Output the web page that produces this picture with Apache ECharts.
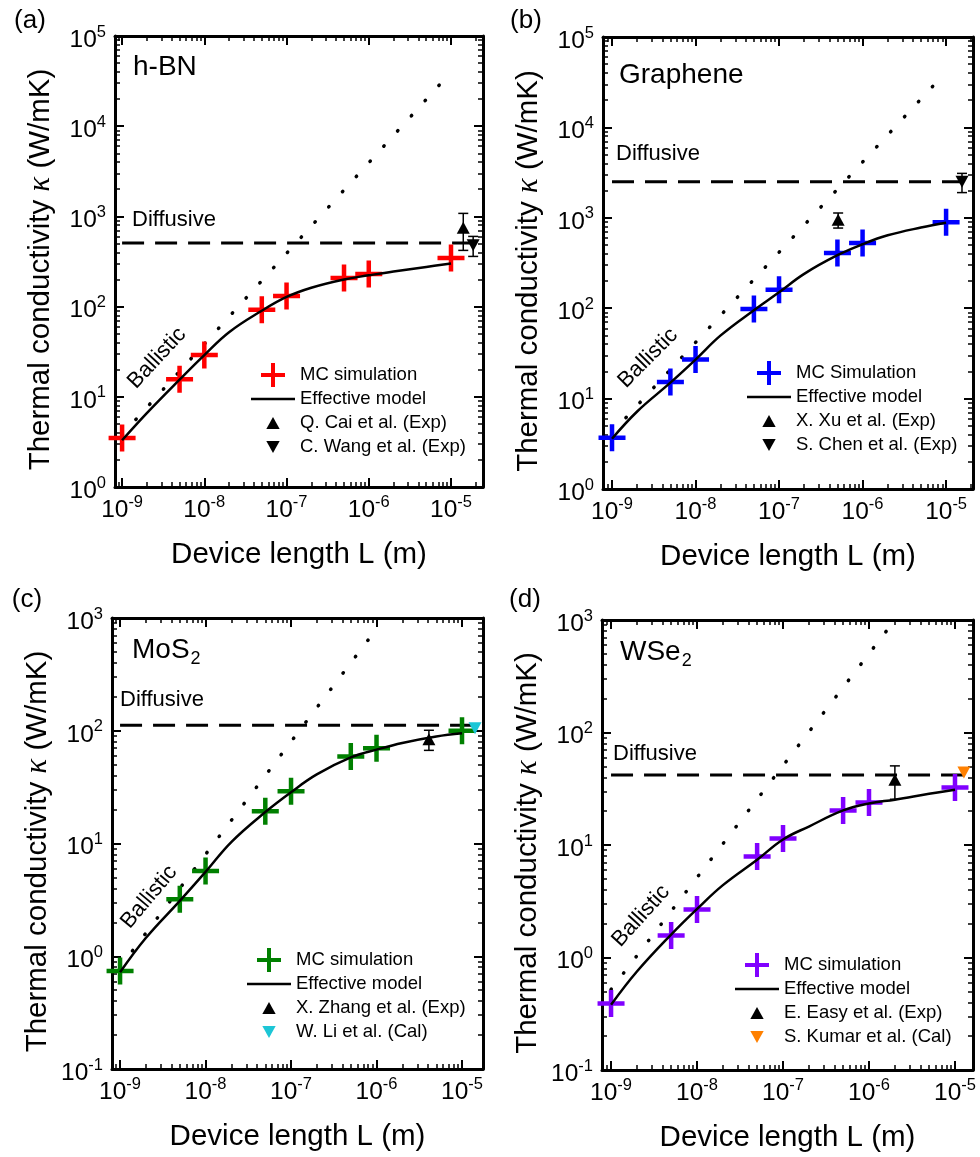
<!DOCTYPE html>
<html>
<head>
<meta charset="utf-8">
<script src="https://cdn.jsdelivr.net/npm/echarts@6/dist/echarts.min.js"></script>
<style>
  html, body { margin: 0; padding: 0; background: #fff; }
  #chart { width: 980px; height: 1157px; }
</style>
</head>
<body>
<div id="chart"></div>
<script>
// device lengths (m)
const L_MC = [1e-9, 5e-9, 1e-8, 5e-8, 1e-7, 5e-7, 1e-6, 1e-5];
const L_MODEL = [1e-9, 2e-9, 5e-9, 1e-8, 2e-8, 5e-8, 1e-7, 2e-7, 5e-7, 1e-6, 2e-6, 5e-6, 1e-5];

// (a) h-BN
const hbnMC = [3.5, 15.7, 29, 92, 131, 207, 230, 346];
const hbnModel = [3.3, 6.6, 15.5, 29, 52, 90, 128, 162, 200, 222, 245, 275, 300];
const hbnBallisticL = [1e-9, 9.3e-6];
const hbnBallisticK = [3.8, 3.7e4];
const hbnDiffusiveL = [1e-9, 2.3e-5];
const hbnDiffusiveK = [507, 507];
const hbnExpUp = [1.41e-5, 750, 330];   // L, kappa, error
const hbnExpDown = [1.86e-5, 480, 120];

// (b) Graphene
const grMC = [3.7, 15.3, 27, 98, 160, 409, 527, 895];
const grModel = [3.6, 7.2, 15, 27, 50, 95, 150, 240, 386, 510, 640, 780, 880];
const grBallisticL = [1e-9, 8.5e-6];
const grBallisticK = [4.2, 3.5e4];
const grDiffusiveL = [1e-9, 1.5e-5];
const grDiffusiveK = [2500, 2500];
const grExpUp = [5.1e-7, 950, 180];
const grExpDown = [1.55e-5, 2500, 600];

// (c) MoS2
const mosMC = [0.74, 3.2, 5.7, 19.3, 29, 59, 70, 100];
const mosModel = [0.72, 1.45, 3.1, 5.6, 10.3, 19, 28.5, 41, 58, 68, 78, 89, 95];
const mosBallisticL = [1e-9, 9.5e-7];
const mosBallisticK = [0.8, 760];
const mosDiffusiveL = [1e-9, 1.4e-5];
const mosDiffusiveK = [112, 112];
const mosExpUp = [4.1e-6, 84, 17];
const mosCalDown = [1.42e-5, 105];

// (d) WSe2
const wseMC = [0.39, 1.57, 2.67, 7.9, 11.4, 20.3, 23.9, 32.4];
const wseModel = [0.38, 0.75, 1.6, 2.7, 4.4, 7.4, 11.2, 14.6, 20.3, 23.4, 25.3, 28.5, 31];
const wseBallisticL = [1e-9, 1.9e-6];
const wseBallisticK = [0.52, 950];
const wseDiffusiveL = [1e-9, 1.3e-5];
const wseDiffusiveK = [42, 42];
const wseExpUp = [2.0e-6, 38, 12.5];
const wseCalDown = [1.27e-5, 44];

const FONT = 'Arial, "Liberation Sans", sans-serif';
const CROSS = 'path://M11.25,0h4.5v11.25h11.25v4.5h-11.25v11.25h-4.5v-11.25h-11.25v-4.5h11.25z';
const TRI_UP = 'path://M5,0L10,9L0,9z';
const TRI_DOWN = 'path://M0,0L10,0L5,9z';
const LINE_ICON = 'path://M0,0h44v2.5h-44z';

const panels = [
  { tag: '(a)', mat: 'h-BN', grid: { left: 115, top: 36, width: 368, height: 451 }, xMin: 8.2e-10, xMax: 2.45e-5, yMin: 1, yMax: 1e5,
    color: '#ff0000', mcName: 'MC simulation', mc: hbnMC, model: hbnModel, balL: hbnBallisticL, balK: hbnBallisticK,
    difL: hbnDiffusiveL, difK: hbnDiffusiveK, up: hbnExpUp, down: hbnExpDown, upName: 'Q. Cai et al. (Exp)', downName: 'C. Wang et al. (Exp)', downColor: '#000',
    legend: [251, 363], tagPos: [30, 21], matPos: [133, 67], difPos: [132, 220], balPos: [157, 358, 47] },
  { tag: '(b)', mat: 'Graphene', grid: { left: 603, top: 37, width: 370, height: 452 }, xMin: 7.8e-10, xMax: 2.1e-5, yMin: 1, yMax: 1e5,
    color: '#0000ff', mcName: 'MC Simulation', mc: grMC, model: grModel, balL: grBallisticL, balK: grBallisticK,
    difL: grDiffusiveL, difK: grDiffusiveK, up: grExpUp, down: grExpDown, upName: 'X. Xu et al. (Exp)', downName: 'S. Chen et al. (Exp)', downColor: '#000',
    legend: [747, 361], tagPos: [526, 21], matPos: [619, 75], difPos: [616, 154], balPos: [648, 358, 45] },
  { tag: '(c)', mat: 'MoS', sub: '2', grid: { left: 112, top: 618, width: 371, height: 451 }, xMin: 8.05e-10, xMax: 1.76e-5, yMin: 0.1, yMax: 1e3,
    color: '#008000', mcName: 'MC simulation', mc: mosMC, model: mosModel, balL: mosBallisticL, balK: mosBallisticK,
    difL: mosDiffusiveL, difK: mosDiffusiveK, up: mosExpUp, down: mosCalDown, upName: 'X. Zhang et al. (Exp)', downName: 'W. Li et al. (Cal)', downColor: '#1cc6d6',
    legend: [247, 948], tagPos: [27, 600], matPos: [132, 650], difPos: [120, 700], balPos: [149, 897, 50] },
  { tag: '(d)', mat: 'WSe', sub: '2', grid: { left: 602, top: 620, width: 371, height: 450 }, xMin: 7.85e-10, xMax: 1.62e-5, yMin: 0.1, yMax: 1e3,
    color: '#8000ff', mcName: 'MC simulation', mc: wseMC, model: wseModel, balL: wseBallisticL, balK: wseBallisticK,
    difL: wseDiffusiveL, difK: wseDiffusiveK, up: wseExpUp, down: wseCalDown, upName: 'E. Easy et al. (Exp)', downName: 'S. Kumar et al. (Cal)', downColor: '#ff8000',
    legend: [735, 953], tagPos: [525, 600], matPos: [620, 652], difPos: [613, 754], balPos: [641, 916, 48] }
];

function powLabel(v) {
  const e = Math.log10(v);
  const r = Math.round(e);
  if (Math.abs(e - r) > 1e-6) return '';
  return '{b|10}{s|' + r + '}';
}
const labelRich = {
  b: { fontSize: 24.5, fontFamily: FONT, color: '#000', padding: [8, 0, 0, 0] },
  s: { fontSize: 16.5, fontFamily: FONT, color: '#000', padding: [0, 0, 8, 0] }
};
const tickCommon = { inside: true, length: 9, lineStyle: { width: 2, color: '#000' } };
const minorCommon = { show: true, splitNumber: 9, length: 5, lineStyle: { width: 1.5, color: '#000' } };
const lineCommon = { show: true, onZero: false, lineStyle: { width: 3, color: '#000' } };

function errRender(params, api) {
  const x = api.value(0), y = api.value(1), e = api.value(2);
  const hi = api.coord([x, y + e]);
  const lo = api.coord([x, y - e]);
  const w = 5;
  const st = { stroke: '#000', lineWidth: 1.5 };
  return {
    type: 'group',
    children: [
      { type: 'line', shape: { x1: hi[0], y1: hi[1], x2: lo[0], y2: lo[1] }, style: st },
      { type: 'line', shape: { x1: hi[0] - w, y1: hi[1], x2: hi[0] + w, y2: hi[1] }, style: st },
      { type: 'line', shape: { x1: lo[0] - w, y1: lo[1], x2: lo[0] + w, y2: lo[1] }, style: st }
    ]
  };
}

const grids = [], xAxes = [], yAxes = [], series = [], legends = [], graphics = [];
const stripTag = name => name.split('#')[0];

panels.forEach((p, i) => {
  grids.push(p.grid);
  const xi = 2 * i, yi = 2 * i;
  xAxes.push({
    type: 'log', logBase: 10, gridIndex: i, position: 'bottom', min: p.xMin, max: p.xMax,
    axisLine: lineCommon, axisTick: tickCommon, minorTick: minorCommon, splitLine: { show: false },
    axisLabel: { formatter: powLabel, rich: labelRich, margin: 3 },
    name: 'Device length L (m)', nameLocation: 'middle', nameGap: 53,
    nameTextStyle: { fontSize: 29.5, fontFamily: FONT, color: '#000' }
  });
  xAxes.push({
    type: 'log', logBase: 10, gridIndex: i, position: 'top', min: p.xMin, max: p.xMax,
    axisLine: lineCommon, axisTick: tickCommon, minorTick: minorCommon, splitLine: { show: false },
    axisLabel: { show: false }
  });
  yAxes.push({
    type: 'log', logBase: 10, gridIndex: i, position: 'left', min: p.yMin, max: p.yMax,
    axisLine: lineCommon, axisTick: tickCommon, minorTick: minorCommon, splitLine: { show: false },
    axisLabel: { formatter: powLabel, rich: labelRich, margin: 9 },
    name: 'Thermal conductivity {k|κ} (W/mK)', nameLocation: 'middle', nameGap: 59,
    nameTextStyle: { fontSize: 29.5, fontFamily: FONT, color: '#000', padding: [0, 16, 0, 0],
      rich: { k: { fontSize: 31, fontFamily: '"Liberation Serif", serif', fontStyle: 'italic', color: '#000' } } }
  });
  yAxes.push({
    type: 'log', logBase: 10, gridIndex: i, position: 'right', min: p.yMin, max: p.yMax,
    axisLine: lineCommon, axisTick: tickCommon, minorTick: minorCommon, splitLine: { show: false },
    axisLabel: { show: false }
  });

  const mcName = p.mcName + '#' + i;
  const modelName = 'Effective model#' + i;
  const upName = p.upName + '#' + i;
  const downName = p.downName + '#' + i;

  series.push({
    name: mcName, type: 'scatter', xAxisIndex: xi, yAxisIndex: yi, z: 2,
    symbol: CROSS, symbolSize: 27, itemStyle: { color: p.color, opacity: 1 },
    data: L_MC.map((l, k) => [l, p.mc[k]])
  });
  series.push({
    name: modelName, type: 'line', xAxisIndex: xi, yAxisIndex: yi, z: 3,
    symbol: 'none', showSymbol: false, smooth: 0.4,
    lineStyle: { color: '#000', width: 2.5 }, itemStyle: { color: '#000' },
    data: L_MODEL.map((l, k) => [l, p.model[k]])
  });
  series.push({
    type: 'line', xAxisIndex: xi, yAxisIndex: yi, z: 1, symbol: 'none', silent: true,
    lineStyle: { color: '#000', width: 3.5, type: [0.5, 20], cap: 'round' },
    data: p.balL.map((l, k) => [l, p.balK[k]])
  });
  series.push({
    type: 'line', xAxisIndex: xi, yAxisIndex: yi, z: 1, symbol: 'none', silent: true,
    lineStyle: { color: '#000', width: 3, type: [22, 11] },
    data: p.difL.map((l, k) => [l, p.difK[k]])
  });
  series.push({
    name: upName, type: 'scatter', xAxisIndex: xi, yAxisIndex: yi, z: 4,
    symbol: TRI_UP, symbolSize: [13, 12], itemStyle: { color: '#000', opacity: 1 },
    data: [[p.up[0], p.up[1]]]
  });
  series.push({
    name: downName, type: 'scatter', xAxisIndex: xi, yAxisIndex: yi, z: 4,
    symbol: TRI_DOWN, symbolSize: [13, 12], itemStyle: { color: p.downColor, opacity: 1 },
    data: [[p.down[0], p.down[1]]]
  });
  const errData = [p.up];
  if (p.down.length > 2) errData.push(p.down);
  series.push({
    type: 'custom', xAxisIndex: xi, yAxisIndex: yi, z: 4, silent: true,
    renderItem: errRender, encode: { x: 0, y: 1 }, data: errData
  });

  const legText = { fontSize: 18.5, fontFamily: FONT, color: '#000', lineHeight: 24 };
  // the cross icon sits 10px inside its 44px slot, the legend box starts at the icon
  legends.push({
    data: [mcName], left: p.legend[0] + 10, top: p.legend[1], orient: 'vertical', padding: 0,
    itemWidth: 44, itemHeight: 24, itemGap: 0, selectedMode: false,
    textStyle: legText, formatter: stripTag
  });
  legends.push({
    data: [{ name: modelName, icon: LINE_ICON }, upName, downName], left: p.legend[0], top: p.legend[1] + 24, orient: 'vertical', padding: 0,
    itemWidth: 44, itemHeight: 12, itemGap: 0, selectedMode: false,
    textStyle: legText, formatter: stripTag
  });

  graphics.push({
    type: 'text', x: p.tagPos[0], y: p.tagPos[1],
    style: { text: p.tag, font: '26px ' + FONT, fill: '#000', align: 'center', verticalAlign: 'middle', textAlign: 'center', textVerticalAlign: 'middle' }
  });
  graphics.push({
    type: 'text', x: p.matPos[0], y: p.matPos[1],
    style: {
      text: p.sub ? '{m|' + p.mat + '}{s|' + p.sub + '}' : '{m|' + p.mat + '}',
      fill: '#000', align: 'left', verticalAlign: 'middle', textAlign: 'left', textVerticalAlign: 'middle',
      rich: {
        m: { fontSize: 28, fontFamily: FONT, color: '#000' },
        s: { fontSize: 18, fontFamily: FONT, color: '#000', padding: [18, 0, 0, 1] }
      }
    }
  });
  graphics.push({
    type: 'text', x: p.difPos[0], y: p.difPos[1],
    style: { text: 'Diffusive', font: '22px ' + FONT, fill: '#000', align: 'left', verticalAlign: 'middle', textAlign: 'left', textVerticalAlign: 'middle' }
  });
  graphics.push({
    type: 'text', x: p.balPos[0], y: p.balPos[1], rotation: p.balPos[2] * Math.PI / 180,
    style: { text: 'Ballistic', font: '22px ' + FONT, fill: '#000', align: 'center', verticalAlign: 'middle', textAlign: 'center', textVerticalAlign: 'middle' }
  });
});

const chart = echarts.init(document.getElementById('chart'), null, { renderer: 'canvas' });
chart.setOption({
  animation: false,
  backgroundColor: '#fff',
  grid: grids,
  xAxis: xAxes,
  yAxis: yAxes,
  legend: legends,
  graphic: graphics,
  series: series
});
</script>
</body>
</html>
